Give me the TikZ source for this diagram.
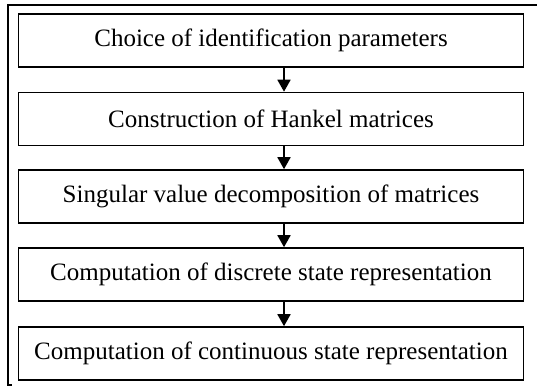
\documentclass[tikz,border=0pt]{standalone}
\usepackage{fontspec}
\setmainfont{Liberation Serif}
\usepackage{tikz}
\usetikzlibrary{arrows.meta,positioning,calc}

\begin{document}
\begin{tikzpicture}[
    x=1pt, y=-1pt,
    stage/.style = {rectangle, draw, line width=1.6pt, minimum width=505pt, minimum height=53pt, inner sep=0pt, font=\fontsize{25}{29}\selectfont},
    flow/.style = {-{Triangle[length=12pt,width=13pt]}, line width=1.8pt}
]
    \useasboundingbox (0,0) rectangle (537,387);

    % Outer frame (top and left sides only)
    \draw[line width=1.6pt] (537,5) -- (8,5) -- (8,385) -- (12,385);

    % Processing stages
    \node[stage] (choice) at (271,40.5) {Choice of identification parameters};
    \node[stage] (hankel) at (271,119) {Construction of Hankel matrices};
    \node[stage] (svd) at (271,196.5) {Singular value decomposition of matrices};
    \node[stage] (discrete) at (271,274.5) {Computation of discrete state representation};
    \node[stage] (continuous) at (271,353.5) {Computation of continuous state representation};

    % Arrow column
    \coordinate (ax) at (284,0);

    % Arrows between stages
    \draw[flow] (choice.south -| ax) -- (hankel.north -| ax);
    \draw[flow] (hankel.south -| ax) -- (svd.north -| ax);
    \draw[flow] (svd.south -| ax) -- (discrete.north -| ax);
    \draw[flow] (discrete.south -| ax) -- (continuous.north -| ax);

\end{tikzpicture}
\end{document}
